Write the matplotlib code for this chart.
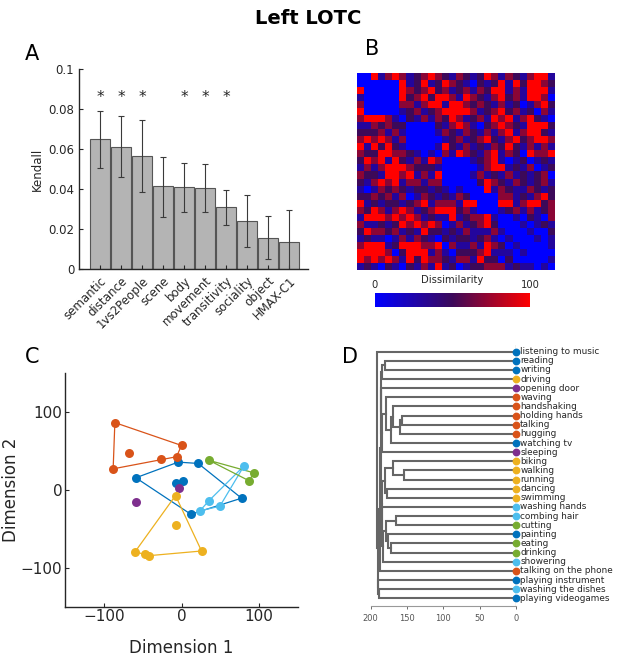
import numpy as np
import matplotlib
matplotlib.use('Agg')
import matplotlib.pyplot as plt
from matplotlib.colors import LinearSegmentedColormap

W, H = 617, 662

# ---- panel A data
models = ['semantic', 'distance', '1vs2People', 'scene', 'body', 'movement',
          'transitivity', 'sociality', 'object', 'HMAX-C1']
kendall = [0.0649, 0.0611, 0.0566, 0.0414, 0.0409, 0.0406, 0.0309, 0.0240, 0.0158, 0.0135]
err_lo = [0.0506, 0.0459, 0.0386, 0.0263, 0.0286, 0.0286, 0.0221, 0.0113, 0.0050, -0.0030]
err_hi = [0.0792, 0.0765, 0.0747, 0.0562, 0.0531, 0.0524, 0.0398, 0.0369, 0.0266, 0.0296]
signif = [1, 1, 1, 0, 1, 1, 1, 0, 0, 0]

# ---- panel B data (upper triangle, level 0 = blue .. 4 = red)
rdm_upper = [
    "041343123432132124313213441",
    "00004124124321021241424432",
    "0004323423123132441314441",
    "004234244314321342314430",
    "03313441443232131201342",
    "1231234444312342312031",
    "213132431231434134210",
    "00021343102343214442",
    "0013213213134134421",
    "001231234213423443",
    "14213121324213131",
    "3143213413204334",
    "000123410120121",
    "00013441213012",
    "0131213121230",
    "024321321231",
    "04132113212",
    "0033121342",
    "044134423",
    "12313123",
    "0102103",
    "010121",
    "01002",
    "0101",
    "001",
    "00",
    "1",
]
level_vals = [0, 30, 50, 70, 100]

# ---- panel C data (MDS coordinates per category)
mds_groups = {
    'blue':   ([-58.8, -4.3, 21.5, 77.3, 12.0, -7.7, 1.3],
               [15.5, 35.6, 33.9, -10.7, -31.3, 9.0, 11.6]),
    'orange': ([-85.8, -67.4, -88.0, -25.8, 0.0, -6.4],
               [86.3, 47.6, 27.0, 39.0, 57.0, 42.5]),
    'purple': ([-58.8, -3.4], [-15.5, 2.6]),
    'yellow': ([-7.7, -7.7, -59.7, -47.0, -42.0, 25.8],
               [-7.3, -45.5, -79.4, -82.0, -84.5, -78.5]),
    'lightblue': ([80.3, 35.6, 23.6, 49.4], [30.5, -13.7, -27.0, -21.0]),
    'green':  ([35.6, 93.1, 87.1], [37.8, 21.9, 11.6]),
}
group_colors = {'blue': '#0072BD', 'orange': '#D95319', 'yellow': '#EDB120',
                'purple': '#7E2F8E', 'green': '#77AC30', 'lightblue': '#4DBEEE'}

# ---- panel D data
actions = ['listening to music', 'reading', 'writing', 'driving', 'opening door',
           'waving', 'handshaking', 'holding hands', 'talking', 'hugging',
           'watching tv', 'sleeping', 'biking', 'walking', 'running', 'dancing',
           'swimming', 'washing hands', 'combing hair', 'cutting', 'painting',
           'eating', 'drinking', 'showering', 'talking on the phone',
           'playing instrument', 'washing the dishes', 'playing videogames']
action_group = ['blue', 'blue', 'blue', 'yellow', 'purple', 'orange', 'orange',
                'orange', 'orange', 'orange', 'blue', 'purple', 'yellow', 'yellow',
                'yellow', 'yellow', 'yellow', 'lightblue', 'lightblue', 'green',
                'blue', 'green', 'green', 'lightblue', 'orange', 'blue',
                'lightblue', 'blue']
# merges: node ids 0..27 are leaves, 28+k is merge k
merge_a = [1, 7, 29, 6, 31, 5, 13, 12, 15, 35, 18, 21, 20, 38, 41, 17, 37, 33, 4, 28, 47, 48, 49, 26, 25, 50, 0]
merge_b = [2, 8, 9, 30, 10, 32, 14, 34, 16, 36, 19, 22, 39, 40, 23, 42, 43, 11, 45, 3, 46, 44, 24, 27, 51, 52, 53]
merge_h = [180.3, 156.5, 159.6, 168.8, 172.5, 178.9, 153.7, 168.8, 178.0, 180.5,
           165.6, 172.5, 176.3, 178.9, 183.5, 184.2, 185.0, 184.5, 185.3, 184.8,
           185.8, 186.3, 187.0, 188.8, 189.5, 190.5, 191.7]


def px(l, t, r, b):
    return [l / W, 1 - b / H, (r - l) / W, (b - t) / H]


def hull(xs, ys):
    pts = sorted(set(zip(xs, ys)))
    def cross(o, a, b):
        return (a[0] - o[0]) * (b[1] - o[1]) - (a[1] - o[1]) * (b[0] - o[0])
    lower, upper = [], []
    for p in pts:
        while len(lower) >= 2 and cross(lower[-2], lower[-1], p) <= 0:
            lower.pop()
        lower.append(p)
    for p in reversed(pts):
        while len(upper) >= 2 and cross(upper[-2], upper[-1], p) <= 0:
            upper.pop()
        upper.append(p)
    h = lower[:-1] + upper[:-1]
    h.append(h[0])
    return [p[0] for p in h], [p[1] for p in h]


fig = plt.figure(figsize=(W / 100, H / 100), dpi=100)
fig.text(0.5, 1 - 18 / H, 'Left LOTC', ha='center', va='center',
         fontsize=14, fontweight='bold')
dark = '#262626'

# ---------------- A
ax = fig.add_axes(px(79, 69, 308, 269.3))
x = np.arange(1, len(models) + 1)
vals = np.array(kendall)
ax.bar(x, vals, width=0.92, color='#b4b4b4', edgecolor='#555555', linewidth=0.8)
ax.errorbar(x, vals, yerr=[vals - np.array(err_lo), np.array(err_hi) - vals],
            fmt='none', ecolor='#3a3a3a', elinewidth=0.8, capsize=2.2, capthick=0.8)
for xi, s in zip(x, signif):
    if s:
        ax.text(xi, 0.0858, '*', ha='center', va='center', fontsize=11, color=dark)
ax.set_xlim(0, 10.9)
ax.set_ylim(0, 0.1)
ax.set_yticks([0, 0.02, 0.04, 0.06, 0.08, 0.1])
ax.set_yticklabels(['0', '0.02', '0.04', '0.06', '0.08', '0.1'])
ax.set_xticks(x)
ax.set_xticklabels(models, rotation=45, ha='right', rotation_mode='anchor')
ax.tick_params(direction='in', length=3, labelsize=8.5, colors=dark, width=0.8)
ax.set_ylabel('Kendall', fontsize=8.5, color=dark, labelpad=3)
for sp in ['top', 'right']:
    ax.spines[sp].set_visible(False)
for sp in ['left', 'bottom']:
    ax.spines[sp].set_color(dark)
    ax.spines[sp].set_linewidth(1.0)
fig.text(32 / W, 1 - 54 / H, 'A', ha='center', va='center', fontsize=15)

# ---------------- B
n = len(actions)
rdm = np.zeros((n, n))
for i, row in enumerate(rdm_upper):
    for k, ch in enumerate(row):
        j = i + 1 + k
        rdm[i, j] = level_vals[int(ch)]
        rdm[j, i] = rdm[i, j]
cmap = LinearSegmentedColormap.from_list('bpr', ['#0000ff', '#3c0a5a', '#ff0000'])
axb = fig.add_axes(px(356.7, 73.3, 554, 270))
axb.imshow(rdm, cmap=cmap, vmin=0, vmax=100, aspect='auto', interpolation='nearest')
axb.set_xticks([])
axb.set_yticks([])
for sp in axb.spines.values():
    sp.set_visible(False)
fig.text(372 / W, 1 - 49 / H, 'B', ha='center', va='center', fontsize=15)

axcb = fig.add_axes(px(375, 293.3, 530, 306.7))
axcb.imshow(np.linspace(0, 100, 256)[None, :], cmap=cmap, aspect='auto')
axcb.set_xticks([])
axcb.set_yticks([])
for sp in axcb.spines.values():
    sp.set_visible(False)
fig.text(452 / W, 1 - 280 / H, 'Dissimilarity', ha='center', va='center', fontsize=7.2, color=dark)
fig.text(375 / W, 1 - 285 / H, '0', ha='center', va='center', fontsize=7.2, color=dark)
fig.text(530 / W, 1 - 285 / H, '100', ha='center', va='center', fontsize=7.2, color=dark)

# ---------------- C
axc = fig.add_axes(px(65, 373, 298, 606.7))
for g, (gx, gy) in mds_groups.items():
    if len(gx) >= 3:
        hx, hy = hull(gx, gy)
        axc.plot(hx, hy, color=group_colors[g], lw=0.9, zorder=2)
for g, (gx, gy) in mds_groups.items():
    axc.scatter(gx, gy, s=42, color=group_colors[g], zorder=3, linewidths=0)
axc.set_xlim(-150, 150)
axc.set_ylim(-150, 150)
axc.set_xticks([-100, 0, 100])
axc.set_yticks([-100, 0, 100])
axc.tick_params(direction='in', length=3, labelsize=11, colors=dark, width=0.8, pad=2)
for sp in ['top', 'right']:
    axc.spines[sp].set_visible(False)
for sp in ['left', 'bottom']:
    axc.spines[sp].set_color(dark)
    axc.spines[sp].set_linewidth(1.0)
fig.text(181.5 / W, 1 - 648 / H, 'Dimension 1', ha='center', va='center',
         fontsize=12, color=dark)
fig.text(11 / W, 1 - 490 / H, 'Dimension 2', ha='center', va='center',
         rotation=90, fontsize=12, color=dark)
fig.text(32.5 / W, 1 - 357 / H, 'C', ha='center', va='center', fontsize=15)

# ---------------- D
axd = fig.add_axes(px(370.7, 345.3, 516, 605.7))
pos = {i: (0.0, float(i)) for i in range(n)}
lc = '#666666'
for k, (a, b, h) in enumerate(zip(merge_a, merge_b, merge_h)):
    xa, ya = pos[a]
    xb, yb = pos[b]
    axd.plot([xa, h, h, xb], [ya, ya, yb, yb], color=lc, lw=1.5,
             solid_joinstyle='miter', zorder=2)
    pos[n + k] = (h, (ya + yb) / 2)
axd.axvline(0, color='#c8b8a8', lw=1.0, zorder=1)
for i, (name, g) in enumerate(zip(actions, action_group)):
    axd.plot(0, i, 'o', ms=4.6, color=group_colors[g], zorder=3, clip_on=False)
    axd.annotate(name, (0, i), xytext=(3, 0), textcoords='offset points',
                 ha='left', va='center', fontsize=6.4, color=dark,
                 annotation_clip=False)
axd.set_xlim(200, 0)
axd.set_ylim(27.81, -0.7)
axd.set_xticks([200, 150, 100, 50, 0])
axd.set_yticks([])
axd.tick_params(axis='x', direction='out', length=2.5, labelsize=6, colors='#555555', width=0.6)
for sp in ['top', 'right', 'left']:
    axd.spines[sp].set_visible(False)
axd.spines['bottom'].set_color('#999999')
axd.spines['bottom'].set_linewidth(0.8)
fig.text(349.5 / W, 1 - 357 / H, 'D', ha='center', va='center', fontsize=15)

fig.savefig('out.png', dpi=100)
